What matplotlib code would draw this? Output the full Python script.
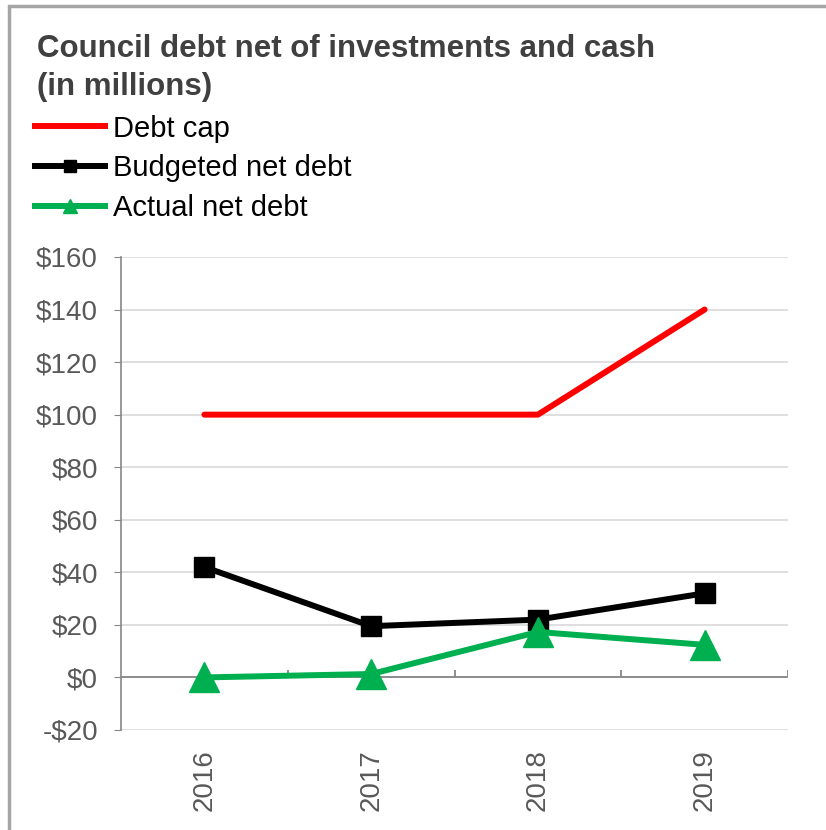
import matplotlib
matplotlib.use("Agg")
import matplotlib.pyplot as plt
from matplotlib.lines import Line2D
from matplotlib.patches import Rectangle

years = ["2016", "2017", "2018", "2019"]
debt_cap = [100, 100, 100, 140]
budgeted = [42, 19.5, 22, 32]
actual = [0, 1.3, 17.3, 12.4]
yticks = [-20, 0, 20, 40, 60, 80, 100, 120, 140, 160]

plt.rcParams['font.family'] = ['Liberation Sans', 'DejaVu Sans']

RED = '#ff0000'
GREEN = '#00b050'
GREY_TXT = '#595959'

fig = plt.figure(figsize=(8.26, 8.30), dpi=100)

# outer frame (left and top edges only)
fig.add_artist(Rectangle((0.011, -0.05), 1.2, 0.043 + 1.0, transform=fig.transFigure,
                         fill=False, edgecolor='#a6a6a6', linewidth=2.5))

fig.text(0.045, 0.918, "Council debt net of investments and cash\n(in millions)",
         fontsize=22.5, fontweight='bold', color='#404040', va='center',
         linespacing=1.31)

ax = fig.add_axes([0.1465, 0.1205, 0.8075, 0.5699])
x = list(range(len(years)))

ax.plot(x, debt_cap, color=RED, lw=4.3, solid_capstyle='round', zorder=3)
ax.plot(x, budgeted, color='black', lw=4.3, marker='s', ms=14, zorder=4)
ax.plot(x, actual, color=GREEN, lw=4.3, marker='^', ms=21, zorder=5)

ax.set_xlim(-0.5, 3.5)
ax.set_ylim(-20, 160)
ax.set_yticks(yticks)
ax.set_yticklabels([("-$%d" % -v) if v < 0 else ("$%d" % v) for v in yticks])
ax.grid(axis='y', color='#d9d9d9', lw=1.2)
ax.set_axisbelow(True)

for s in ['top', 'right', 'bottom']:
    ax.spines[s].set_visible(False)
ax.spines['left'].set_color('#868686')
ax.spines['left'].set_linewidth(1.2)

# category axis crosses at zero, with tick marks between categories
ax.axhline(0, color='#868686', lw=1.3, zorder=2)
ax.vlines([0.5, 1.5, 2.5, 3.5], 0, 3, color='#868686', lw=1.3, zorder=2)

ax.set_xticks(x)
ax.set_xticklabels(years, rotation=90)
ax.tick_params(axis='x', length=0, pad=14, labelsize=20, labelcolor=GREY_TXT)
ax.tick_params(axis='y', length=5, color='#868686', pad=11.5, labelsize=20,
               labelcolor=GREY_TXT)

handles = [
    Line2D([], [], color=RED, lw=4.3),
    Line2D([], [], color='black', lw=4.3, marker='s', ms=9),
    Line2D([], [], color=GREEN, lw=4.3, marker='^', ms=10),
]
fig.legend(handles, ["Debt cap", "Budgeted net debt", "Actual net debt"],
           loc='upper left', bbox_to_anchor=(0.042, 0.862), frameon=False,
           fontsize=21, handlelength=2.4, handletextpad=0.28, labelspacing=0.4,
           borderaxespad=0, borderpad=0)

fig.savefig("out.png", dpi=100)
